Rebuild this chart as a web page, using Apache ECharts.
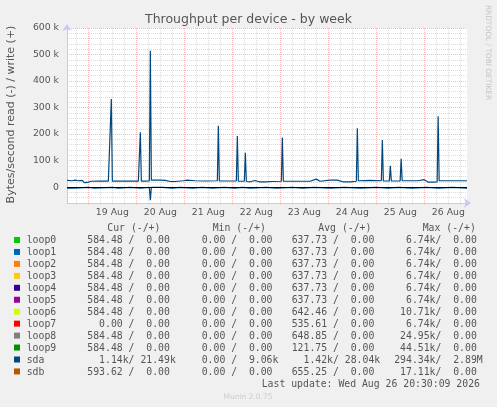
<!DOCTYPE html>
<html>
<head>
<meta charset="utf-8">
<script src="https://cdn.jsdelivr.net/npm/echarts@6/dist/echarts.min.js"></script>
<style>html,body{margin:0;padding:0;background:#F0F0F0;}#c{width:497px;height:407px;}</style>
</head>
<body>
<div id="c"></div>
<script>
// ---------- DATA ----------
const devices = ['loop0','loop1','loop2','loop3','loop4','loop5','loop6','loop7','loop8','loop9','sda','sdb'];
const deviceColors = ['#00CC00','#0066B3','#FF8000','#FFCC00','#330099','#990099','#CCFF00','#FF0000','#808080','#008F00','#00487D','#B35A00'];
const curRead  = [584.48,584.48,584.48,584.48,584.48,584.48,584.48,0,584.48,584.48,1140,593.62];
const curWrite = [0,0,0,0,0,0,0,0,0,0,21490,0];
const minRead  = [0,0,0,0,0,0,0,0,0,0,0,0];
const minWrite = [0,0,0,0,0,0,0,0,0,0,9060,0];
const avgRead  = [637.73,637.73,637.73,637.73,637.73,637.73,642.46,535.61,648.85,121.75,1420,655.25];
const avgWrite = [0,0,0,0,0,0,0,0,0,0,28040,0];
const maxRead  = [6740,6740,6740,6740,6740,6740,10710,6740,24950,44510,294340,17110];
const maxWrite = [0,0,0,0,0,0,0,0,0,0,2890000,0];

// time in hours since 18 Aug 00:00
const dayLabels = ['19 Aug','20 Aug','21 Aug','22 Aug','23 Aug','24 Aug','25 Aug','26 Aug'];
const sdaWriteHours = [13.35,15.9,17.4,19,21,22,24,25.4,30,34,35,35.5,36,39.9,44.9,49,49.5,50,50.5,52.4,54.5,55,55.5,59.9,62.4,65,67.4,71.4,73.4,77.4,82.4,88.5,89,89.5,95.9,98,98.5,99,102,102.5,103,104.9,107.4,109.4,112.4,115.9,120.5,121,121.5,129.9,134.9,137.9,139.9,144.9,148.4,151.4,154.9,158,158.5,159,164.9,170.5,171,171.5,174.5,175,175.5,179.9,180.4,180.9,188.9,191.9,193.9,196.9,198.4,198.9,199.4,207.4,213.35];
const sdaWriteK     = [25,24,26,24,25,17,19,22,22.5,22.5,22.5,332,22.5,22.5,23,22.5,22.5,207,22.5,22.5,23,514,26,26,25,21,21,24,26,24,23,24,231,23,23,23,193,22,22,129,21,20,25,20,20,21,22,187,22,22,22,30,22,26,26,20,20,22,222,24,25,24,178,23,23,80,23,23,107,24,24,28,19,19,20,267,24,24,24];
const sdaReadHours = [13.35,17,17.5,24,24.5,27,27.5,36,36.5,39,39.5,45,45.5,50,50.5,54.5,55,55.5,61,61.5,66,66.5,70,70.5,76,76.5,81,81.5,86,86.5,92,92.5,97,97.5,101,101.5,105,105.5,113,113.5,118,118.5,126,126.5,131,131.5,137,137.5,145,145.5,152,152.5,160,160.5,168,168.5,174,174.5,179,179.5,186,186.5,193,193.5,199,199.5,206,206.5,213.35];
const sdaReadK     = [4,4,0.8,0.8,4,4,0.8,0.8,4,4,0.8,0.8,4,4,0.8,0.8,49,0.8,0.8,4,4,0.8,0.8,4,4,0.8,0.8,4,4,0.8,0.8,4,4,0.8,0.8,4,4,0.8,0.8,4,4,0.8,0.8,4,4,0.8,0.8,4,4,0.8,0.8,4,4,0.8,0.8,4,4,0.8,0.8,4,4,0.8,0.8,4,4,0.8,0.8,4,4];

const titleText = 'Throughput per device - by week';
const yAxisName = 'Bytes/second read (-) / write (+)';
const colHeaders = ['Cur (-/+)','Min (-/+)','Avg (-/+)','Max (-/+)'];
const lastUpdate = 'Last update: Wed Aug 26 20:30:09 2026';
const footer = 'Munin 2.0.75';
const watermark = 'RRDTOOL / TOBI OETIKER';

// ---------- BUILD ----------
const T0 = 13.33, T1 = 213.33;
function si(v){
  let s;
  if (v >= 1e6) s = (v/1e6).toFixed(2) + 'M';
  else if (v >= 1e3) s = (v/1e3).toFixed(2) + 'k';
  else s = v.toFixed(2) + ' ';
  return s.padStart(7,' ');
}
function field(r,w){ return si(r) + '/' + si(w); }

const TXT = '#555555';
const MONO = '9.8px "DejaVu Sans Mono"';
const graphics = [];
function txt(x,y,text,font,fill,align,rot){
  graphics.push({type:'text', x:x, y:y, rotation: rot||0, silent:true,
    style:{text:text, font:font, fill:fill, align:align||'left', verticalAlign:'middle', textAlign:align||'left', textVerticalAlign:'middle'}});
}
txt(248.5,19.5,titleText,'12.5px "DejaVu Sans"',TXT,'center');
txt(11.5,114.5,yAxisName,'11px "DejaVu Sans"',TXT,'center',Math.PI/2);
txt(488,52.5,watermark,'7.4px "DejaVu Sans"','#C4C4C4','center',-Math.PI/2);

const rowY0 = 240.7, rowH = 11.95;
const colX = [87.3,189.9,291.7,394.2];
const headX = [107.3,212.7,318.3,422.7];
colHeaders.forEach((h,i)=>txt(headX[i], rowY0-rowH, h, MONO, TXT));
devices.forEach((d,i)=>{
  const y = rowY0 + i*rowH;
  graphics.push({type:'rect', silent:true, shape:{x:14, y:y-3.7, width:6, height:6}, style:{fill:deviceColors[i]}});
  txt(26.7, y, d, MONO, TXT);
  txt(colX[0], y, field(curRead[i],curWrite[i]), MONO, TXT);
  txt(colX[1], y, field(minRead[i],minWrite[i]), MONO, TXT);
  txt(colX[2], y, field(avgRead[i],avgWrite[i]), MONO, TXT);
  txt(colX[3], y, field(maxRead[i],maxWrite[i]), MONO, TXT);
});
txt(261.7, rowY0 + devices.length*rowH, lastUpdate, MONO, TXT);
txt(248, 397, footer, '7.5px "DejaVu Sans"', '#CCCCCC', 'center');

const GRAY = '#DCDCDC', RED = '#F2BCBC', AXIS = '#C8C8F8';

const sdaIdx = devices.indexOf('sda');
const series = [];
series.push({type:'line', name:'sda read', xAxisIndex:0, yAxisIndex:0, symbol:'none', silent:true, z:3,
  lineStyle:{color:deviceColors[sdaIdx], width:1.2}, itemStyle:{color:deviceColors[sdaIdx]},
  data: sdaReadHours.map((h,i)=>[h, -sdaReadK[i]*1000])});
series.push({type:'line', name:'sda write', xAxisIndex:0, yAxisIndex:0, symbol:'none', silent:true, z:4,
  lineStyle:{color:deviceColors[sdaIdx], width:1.2}, itemStyle:{color:deviceColors[sdaIdx]},
  data: sdaWriteHours.map((h,i)=>[h, sdaWriteK[i]*1000]),
  markLine:{silent:true, symbol:['none','none'], label:{show:false}, animation:false,
    lineStyle:{color:'#000000', width:1, type:'solid'}, data:[{yAxis:0}]}});

const chart = echarts.init(document.getElementById('c'), null, {renderer:'canvas'});
chart.setOption({
  backgroundColor:'#F0F0F0',
  animation:false,
  textStyle:{fontFamily:'DejaVu Sans'},
  grid:[
    {left:67, top:28, width:400, height:175, show:true, backgroundColor:'#FFFFFF', borderWidth:0, containLabel:false, outerBoundsMode:'none'},
    {left:67+(18-T0)*2, top:28, width:(210-18)*2, height:175, show:false, containLabel:false, outerBoundsMode:'none'}
  ],
  xAxis:[
    {gridIndex:0, type:'value', min:T0, max:T1,
      axisLine:{show:true, onZero:false, lineStyle:{color:AXIS, width:1}, symbol:['none','arrow'], symbolSize:[7,7], symbolOffset:[0,4]},
      axisTick:{show:false}, axisLabel:{show:false}, splitLine:{show:false}},
    {gridIndex:1, type:'value', min:18, max:210, interval:6,
      axisLine:{show:false}, axisTick:{show:true, length:2, lineStyle:{color:'#D8D8D8'}},
      axisLabel:{show:true, interval:0, margin:5, color:TXT, fontSize:9.3, fontFamily:'DejaVu Sans', hideOverlap:false,
        formatter:(v)=>{ if (((v%24)+24)%24 !== 12) return ''; const k=(v-36)/24; return dayLabels[k]||''; }},
      splitLine:{show:true, lineStyle:{color:[GRAY,RED,GRAY,GRAY], width:1, type:[1,1]}}}
  ],
  yAxis:[
    {gridIndex:0, type:'value', min:-60000, max:600000, interval:20000,
      axisLine:{show:true, onZero:false, lineStyle:{color:AXIS, width:1}, symbol:['none','arrow'], symbolSize:[7,7], symbolOffset:[0,4]},
      axisTick:{show:false},
      axisLabel:{show:true, margin:8, color:TXT, fontSize:9.3, fontFamily:'DejaVu Sans', interval:0,
        formatter:(v)=>{ if (v % 100000 !== 0) return ''; return v===0 ? '0' : (v/1000)+' k'; }},
      splitLine:{show:true, lineStyle:{color:[GRAY,GRAY,GRAY,RED,GRAY], width:1, type:[1,1]}}},
    {gridIndex:1, type:'value', min:0, max:1, show:false}
  ],
  series: series,
  graphic: graphics
});
</script>
</body>
</html>
